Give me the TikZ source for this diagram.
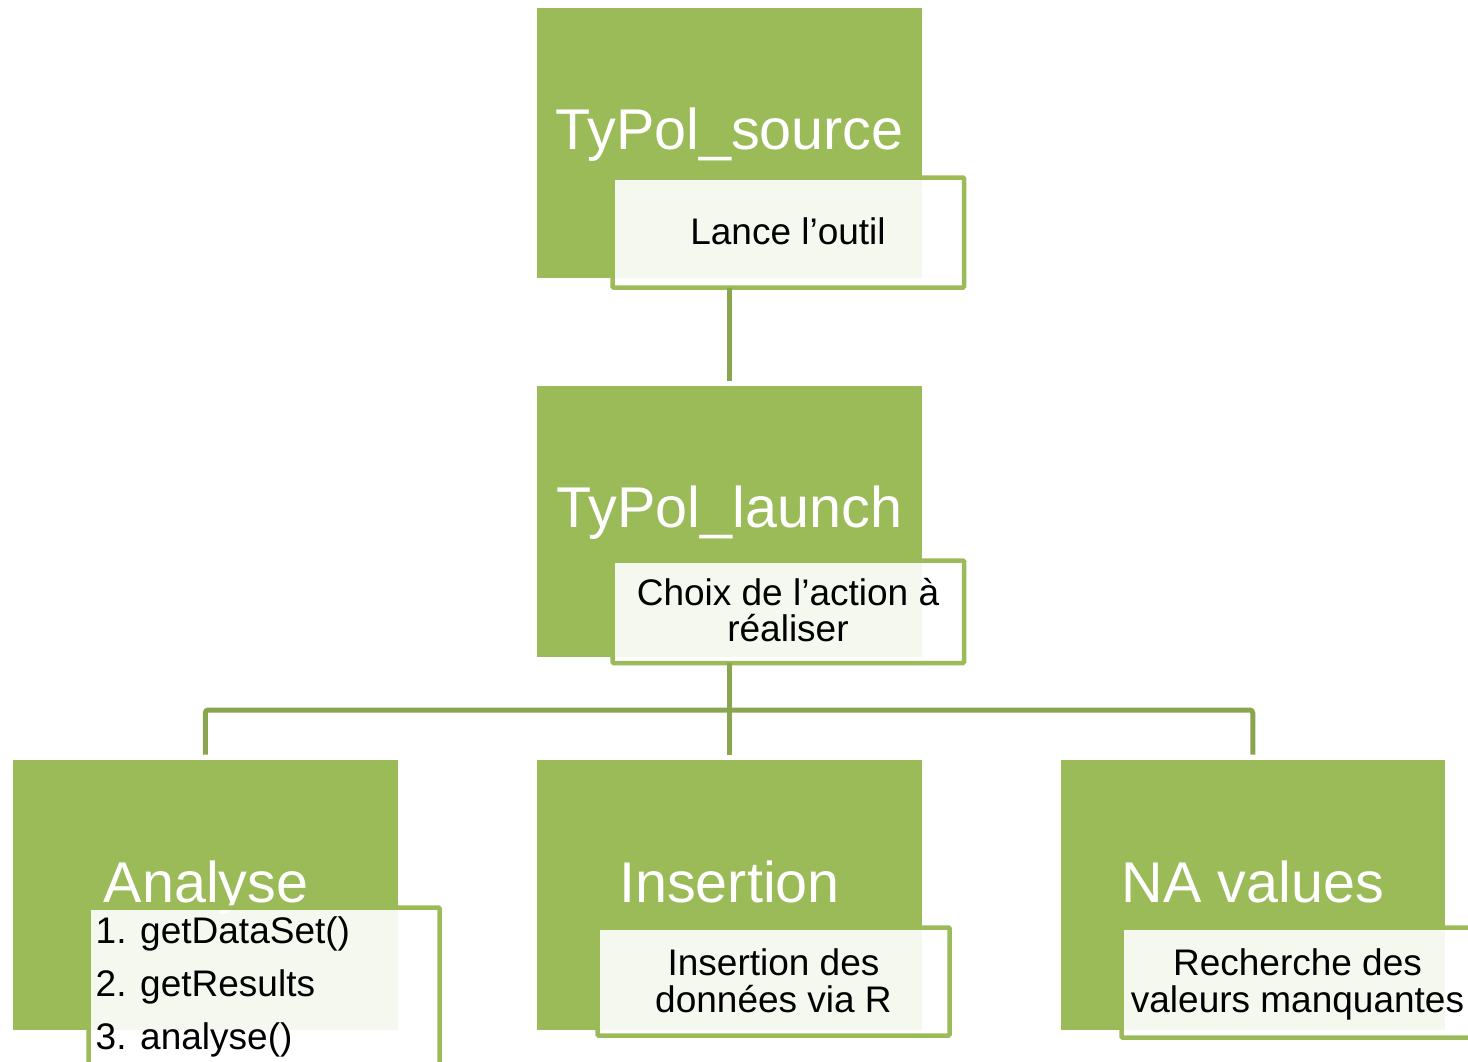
\documentclass[tikz,border=0pt]{standalone}
\usepackage{fontspec}
\setmainfont{Liberation Sans}
\definecolor{leaf}{RGB}{155,187,89}
\definecolor{link}{RGB}{137,165,79}
\begin{document}
\begin{tikzpicture}[x=1pt,y=-1pt,
  greenbox/.style={fill=leaf, draw=none, inner sep=0pt, outer sep=0pt, anchor=north west,
                   minimum width=384.5pt, minimum height=270.5pt},
  notebox/.style={draw=leaf, line width=4.5pt, fill=white, fill opacity=0.9,
                  rounded corners=1pt, inner sep=0pt, outer sep=0pt, anchor=north west},
  title/.style={text=white, font=\fontsize{57.5}{60}\selectfont, inner sep=0pt, anchor=base},
  note/.style={text=black, font=\fontsize{37}{38}\selectfont, inner sep=0pt, anchor=base},
  item/.style={note, anchor=base west},
  conn/.style={draw=link, line width=5pt, rounded corners=3pt}]
\useasboundingbox (0,0) rectangle (1468,1061);
\clip (0,0) rectangle (1468,1061);

% green title blocks
\node[greenbox] (source) at (537,7.5) {};
\node[greenbox] (launch) at (537,386) {};
\node[greenbox, minimum width=385.5pt] (analyse) at (12.5,759.5) {};
\node[greenbox] (insertion) at (537,759.5) {};
\node[greenbox] (navals) at (1060.5,759.5) {};

% block titles
\node[title] (sourcet) at (729.5,149) {TyPol\_source};
\node[title] (launcht) at (729.5,527) {TyPol\_launch};
\node[title] (analyset) at (206,902) {Analyse};
\node[title] (insertiont) at (729.5,902) {Insertion};
\node[title] (navalst) at (1253,902) {NA values};

% description boxes
\node[notebox, minimum width=351.5pt, minimum height=110pt] (srcbox) at (612.5,177.5) {};
\node[notebox, minimum width=351.5pt, minimum height=102.5pt] (launchbox) at (612.5,560.5) {};
\node[notebox, minimum width=351pt, minimum height=170pt] (analysebox) at (88.5,907.5) {};
\node[notebox, minimum width=352pt, minimum height=108pt] (insertbox) at (597.5,927.5) {};
\node[notebox, minimum width=352pt, minimum height=110pt] (nabox) at (1121.5,927.5) {};

% description texts
\node[note] (srcnote) at (788,244) {Lance l’outil};
\node[note] (launchnote1) at (788,605) {Choix de l’action à};
\node[note] (launchnote2) at (788,641) {réaliser};
\node[item] (step1) at (95.5,943) {1. getDataSet()};
\node[item] (step2) at (95.5,996) {2. getResults};
\node[item] (step3) at (95.5,1049) {3. analyse()};
\node[note] (insertnote1) at (773.5,975) {Insertion des};
\node[note] (insertnote2) at (773.5,1012.5) {données via R};
\node[note] (nanote1) at (1297.5,975) {Recherche des};
\node[note] (nanote2) at (1297.5,1012.5) {valeurs manquantes};

% connectors
\coordinate (bus) at (729.5,710);
\draw[conn] (srcbox.south -| source.south) -- ([yshift=5pt]launch.north);
\draw[conn] (launchbox.south -| launch.south) -- ([yshift=5pt]insertion.north);
\draw[conn] ([yshift=5pt]analyse.north) |- (bus) -| ([yshift=5pt]navals.north);
\end{tikzpicture}
\end{document}
